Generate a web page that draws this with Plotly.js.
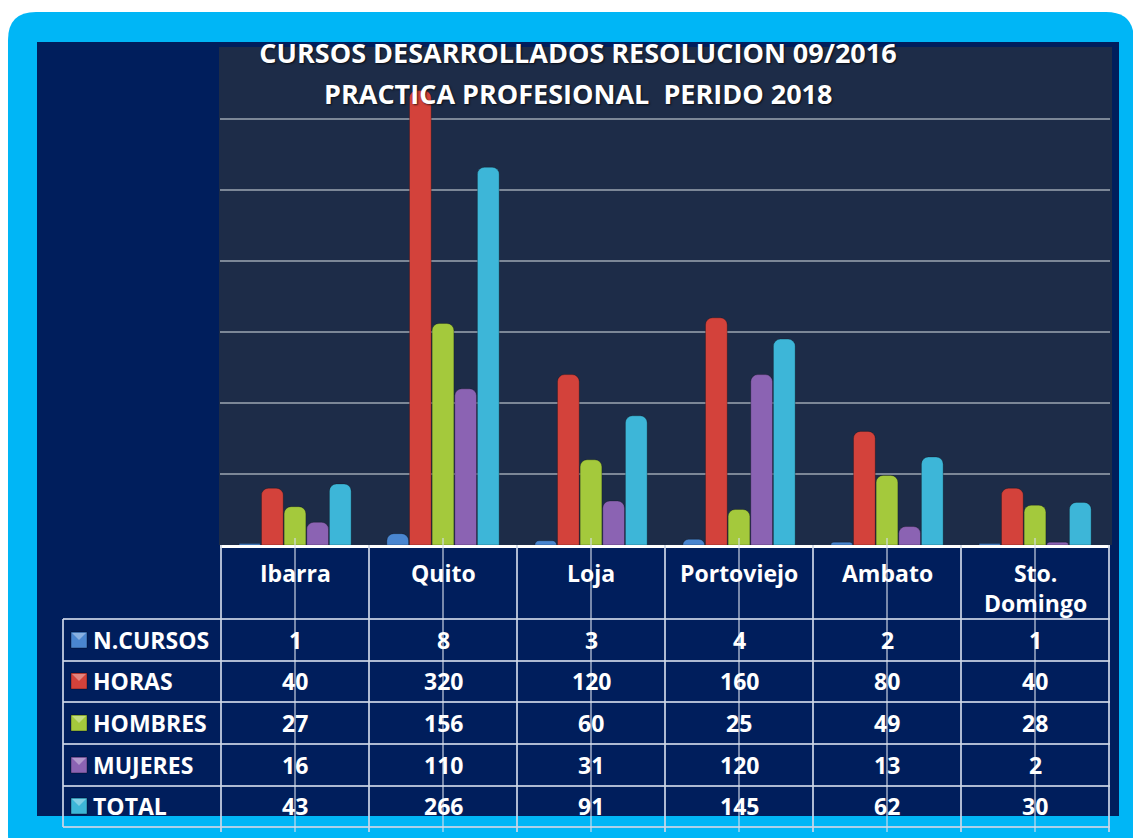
<!DOCTYPE html>
<html>
<head>
<meta charset="utf-8">
<script src="https://cdn.plot.ly/plotly-3.0.1.min.js"></script>
<style>
html,body{margin:0;padding:0;background:#ffffff;}
#chart{width:1133px;height:838px;}
</style>
</head>
<body>
<div id="chart"></div>
<script>
// ---- data ----
const categories = ['Ibarra', 'Quito', 'Loja', 'Portoviejo', 'Ambato', 'Sto. Domingo'];
const categoryLabels = ['Ibarra', 'Quito', 'Loja', 'Portoviejo', 'Ambato', 'Sto.<br>Domingo'];
const seriesNames = ['N.CURSOS', 'HORAS', 'HOMBRES', 'MUJERES', 'TOTAL'];
const nCursos = [1, 8, 3, 4, 2, 1];
const horas = [40, 320, 120, 160, 80, 40];
const hombres = [27, 156, 60, 25, 49, 28];
const mujeres = [16, 110, 31, 120, 13, 2];
const total = [43, 266, 91, 145, 62, 30];
const seriesValues = [nCursos, horas, hombres, mujeres, total];
const seriesColors = ['#4a86d0', '#d3423b', '#a4c93c', '#8b63b3', '#3db6d8'];
const titleLine1 = 'CURSOS DESARROLLADOS RESOLUCION 09/2016';
const titleLine2 = 'PRACTICA PROFESIONAL  PERIDO 2018';

// ---- layout helpers (pixel -> paper) ----
const W = 1133, H = 838;
const px = x => x / W;
const py = y => 1 - y / H;

const FONT = 'Open Sans, Noto Sans, Arial, sans-serif';

const traces = seriesNames.map((name, i) => ({
  type: 'bar',
  name: name,
  x: categories,
  y: seriesValues[i],
  marker: { color: seriesColors[i], line: { width: 1, color: 'rgba(0,0,0,0.25)' } },
  hoverinfo: 'x+y+name'
}));

// rounded cyan frame
function roundRect(x0, y0, x1, y1, r) {
  const X = v => px(v).toFixed(5), Y = v => py(v).toFixed(5);
  return 'M' + X(x0 + r) + ',' + Y(y0) +
    ' L' + X(x1 - r) + ',' + Y(y0) +
    ' Q' + X(x1) + ',' + Y(y0) + ' ' + X(x1) + ',' + Y(y0 + r) +
    ' L' + X(x1) + ',' + Y(y1 - r) +
    ' Q' + X(x1) + ',' + Y(y1) + ' ' + X(x1 - r) + ',' + Y(y1) +
    ' L' + X(x0 + r) + ',' + Y(y1) +
    ' Q' + X(x0) + ',' + Y(y1) + ' ' + X(x0) + ',' + Y(y1 - r) +
    ' L' + X(x0) + ',' + Y(y0 + r) +
    ' Q' + X(x0) + ',' + Y(y0) + ' ' + X(x0 + r) + ',' + Y(y0) + ' Z';
}

const shapes = [];
shapes.push({ type: 'path', xref: 'paper', yref: 'paper', layer: 'below',
  path: roundRect(8, 12, 1134, 862, 28), fillcolor: '#00b6f6', line: { width: 0 } });
shapes.push({ type: 'rect', xref: 'paper', yref: 'paper', layer: 'below',
  x0: px(37), x1: px(1119), y0: py(816), y1: py(42), fillcolor: '#001e5c', line: { width: 0 } });
shapes.push({ type: 'rect', xref: 'paper', yref: 'paper', layer: 'below',
  x0: px(219), x1: px(1112), y0: py(545), y1: py(47), fillcolor: '#1d2c48', line: { width: 0 } });

// table geometry
const rowLines = [619, 661, 702, 744, 786, 827];
const rowCenters = [640, 681, 723, 765, 806];
const lineColor = 'rgba(205,214,230,0.85)';

rowLines.forEach(y => {
  shapes.push({ type: 'line', xref: 'paper', yref: 'paper', layer: 'above',
    x0: px(63), x1: px(1110), y0: py(y), y1: py(y), line: { color: lineColor, width: 2 } });
});
// left edge of legend column
shapes.push({ type: 'line', xref: 'paper', yref: 'paper', layer: 'above',
  x0: px(63), x1: px(63), y0: py(619), y1: py(827), line: { color: lineColor, width: 2 } });
// column dividers (category boundaries) and centre ticks, on the x scale
for (let i = 0; i <= categories.length; i++) {
  shapes.push({ type: 'line', xref: 'x', yref: 'paper', layer: 'above',
    x0: i - 0.5, x1: i - 0.5, y0: py(545), y1: py(832), line: { color: lineColor, width: 2 } });
}
for (let i = 0; i < categories.length; i++) {
  shapes.push({ type: 'line', xref: 'x', yref: 'paper', layer: 'above',
    x0: i, x1: i, y0: py(538), y1: py(832), line: { color: 'rgba(215,222,235,0.75)', width: 1.5 } });
}
// legend keys
seriesNames.forEach((n, i) => {
  const c = rowCenters[i];
  shapes.push({ type: 'rect', xref: 'paper', yref: 'paper', layer: 'above',
    x0: px(71), x1: px(87), y0: py(c + 8), y1: py(c - 8),
    fillcolor: seriesColors[i], line: { color: 'rgba(0,0,0,0.35)', width: 1 } });
  shapes.push({ type: 'path', xref: 'paper', yref: 'paper', layer: 'above',
    path: 'M' + px(72) + ',' + py(c - 7) + ' L' + px(86) + ',' + py(c - 7) + ' L' + px(79) + ',' + py(c) + ' Z',
    fillcolor: 'rgba(255,255,255,0.35)', line: { width: 0 } });
});

const annotations = [];
const tableFont = { family: FONT, size: 23, color: '#ffffff', weight: 700 };
// second title line
annotations.push({ xref: 'paper', yref: 'paper', x: px(578), y: py(93), xanchor: 'center', yanchor: 'middle',
  text: '<b>' + titleLine2 + '</b>', showarrow: false,
  font: { family: FONT, size: 27, color: '#ffffff', shadow: '1px 1px 2px rgba(0,0,0,0.7)' } });
// header row
categoryLabels.forEach((lab, j) => {
  annotations.push({ xref: 'x', yref: 'paper', x: categories[j], y: py(555), xanchor: 'center', yanchor: 'top',
    text: '<b>' + lab + '</b>', showarrow: false, font: tableFont });
});
// series names + values
seriesNames.forEach((n, i) => {
  annotations.push({ xref: 'paper', yref: 'paper', x: px(91), y: py(rowCenters[i]), xanchor: 'left', yanchor: 'middle',
    text: '<b>' + n + '</b>', showarrow: false, font: tableFont });
  seriesValues[i].forEach((v, j) => {
    annotations.push({ xref: 'x', yref: 'paper', x: categories[j], y: py(rowCenters[i]), xanchor: 'center', yanchor: 'middle',
      text: '<b>' + v + '</b>', showarrow: false, font: tableFont });
  });
});

const layout = {
  width: W, height: H,
  margin: { l: 0, r: 0, t: 0, b: 0 },
  paper_bgcolor: '#ffffff',
  plot_bgcolor: 'rgba(0,0,0,0)',
  showlegend: false,
  barmode: 'group',
  bargap: 0.235,
  bargroupgap: 0.04,
  barcornerradius: 7,
  title: {
    text: '<b>' + titleLine1 + '</b>',
    x: px(578), xanchor: 'center', xref: 'paper',
    y: py(54), yanchor: 'middle', yref: 'container',
    font: { family: FONT, size: 27, color: '#ffffff', shadow: '1px 1px 2px rgba(0,0,0,0.7)' }
  },
  xaxis: {
    domain: [px(220), px(1110)],
    type: 'category',
    showticklabels: false,
    ticks: '',
    showgrid: false,
    showline: true, linecolor: '#ffffff', linewidth: 3,
    zeroline: false,
    fixedrange: true
  },
  yaxis: {
    domain: [py(545), py(48)],
    range: [0, 350],
    dtick: 50,
    showticklabels: false,
    ticks: '',
    showgrid: true, gridcolor: '#7c8797', gridwidth: 2.5,
    zeroline: false,
    showline: false,
    fixedrange: true
  },
  shapes: shapes,
  annotations: annotations
};

Plotly.newPlot('chart', traces, layout, { displayModeBar: false, staticPlot: true });
</script>
</body>
</html>
